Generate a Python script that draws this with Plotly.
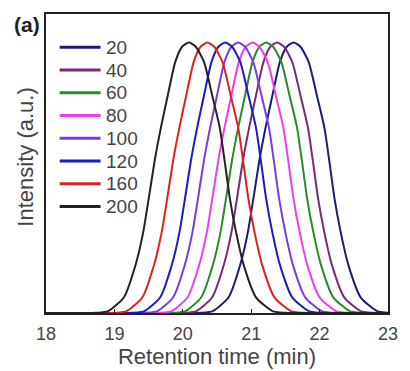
import plotly.graph_objects as go

# Legend labels and peak retention times (min)
labels = ["20", "40", "60", "80", "100", "120", "160", "200"]
peak_times = [21.62, 21.38, 21.22, 21.02, 20.81, 20.62, 20.36, 20.09]
colors = ["#1c1c78", "#7a2a70", "#2a8a2a", "#f03cf0", "#7a3ce0", "#1a1acc", "#e02020", "#222222"]

# Peak profile: offset from apex (min) -> relative intensity
profile_offsets = [-1.6, -1.35, -1.18, -0.95, -0.78, -0.67, -0.59, -0.50, -0.41, -0.31, -0.20, -0.10, 0.0,
                   0.10, 0.22, 0.34, 0.45, 0.52, 0.60, 0.69, 0.80, 0.98, 1.22, 1.4, 1.6]
profile_values = [0.0, 0.001, 0.007, 0.058, 0.178, 0.297, 0.420, 0.565, 0.685, 0.804, 0.928, 0.984, 1.0,
                  0.984, 0.928, 0.804, 0.685, 0.565, 0.420, 0.297, 0.178, 0.058, 0.007, 0.001, 0.0]

x_range = [18, 23]
x_ticks = [18, 19, 20, 21, 22, 23]

TEXT = "#444444"
FONT = "Liberation Sans, Arial, sans-serif"

fig = go.Figure()
for lab, t0, col in zip(labels, peak_times, colors):
    xs = [x_range[0]] + [t0 + o for o in profile_offsets] + [x_range[1]]
    ys = [0.0] + profile_values + [0.0]
    fig.add_trace(go.Scatter(x=xs, y=ys, mode="lines", name=lab, showlegend=False,
                             line=dict(color=col, width=2, shape="spline", smoothing=0.6)))

# Plot frame in pixels: left 46, right 397, top 14, bottom 319
L, R, T, B = 46, 397, 14, 319
W, H = R - L, B - T


def px(xp):
    return (xp - L) / W


def py(yp):
    return (B - yp) / H


shapes = []
annotations = []
for i, (lab, col) in enumerate(zip(labels, colors)):
    yy = py(48 + 23.2 * i)
    shapes.append(dict(type="line", xref="paper", yref="paper", x0=px(60), x1=px(102),
                       y0=yy, y1=yy, line=dict(color=col, width=3)))
    annotations.append(dict(text=lab, xref="paper", yref="paper", x=px(106), y=yy,
                            xanchor="left", yanchor="middle", showarrow=False,
                            font=dict(size=19, color=TEXT, family=FONT)))

annotations.append(dict(text="Intensity (a.u.)", x=px(25), y=py(160), xref="paper", yref="paper",
                        textangle=-90, showarrow=False, xanchor="center", yanchor="middle",
                        font=dict(size=22, color=TEXT, family=FONT)))
annotations.append(dict(text="<b>(a)</b>", x=px(27), y=py(25), xref="paper", yref="paper",
                        showarrow=False, xanchor="center", yanchor="middle",
                        font=dict(size=21, color="#222222", family=FONT)))

fig.update_layout(
    width=410, height=371,
    margin=dict(l=L, r=410 - R, t=T, b=371 - B),
    paper_bgcolor="white", plot_bgcolor="white",
    font=dict(family=FONT, color=TEXT, size=18),
    showlegend=False,
    shapes=shapes,
    annotations=annotations,
    xaxis=dict(range=x_range, tickvals=x_ticks, ticks="inside", ticklen=4,
               tickcolor="#222", showgrid=False, zeroline=False, showline=True,
               linecolor="#222", linewidth=2, mirror=True, ticklabelstandoff=3,
               title=dict(text="Retention time (min)", font=dict(size=22, color=TEXT), standoff=0),
               tickfont=dict(size=18, color=TEXT)),
    yaxis=dict(range=[0, 1.105], showticklabels=False, ticks="", showgrid=False, zeroline=False,
               showline=True, linecolor="#222", linewidth=2, mirror=True),
)

fig.write_html("out.html")
